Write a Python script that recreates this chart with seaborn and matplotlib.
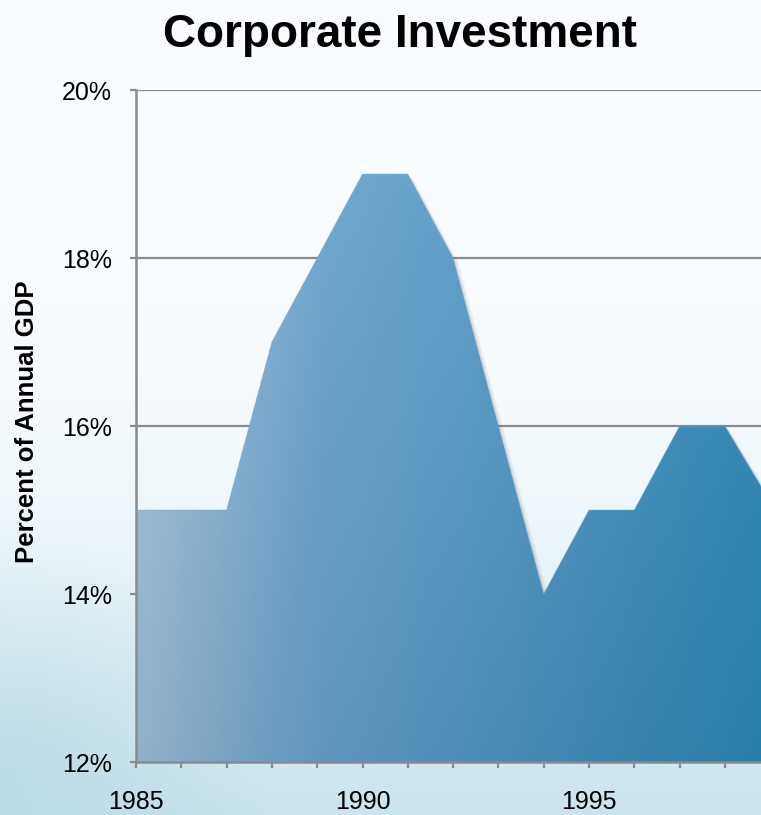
import numpy as np
import pandas as pd
import seaborn as sns
import matplotlib.pyplot as plt
from matplotlib.ticker import MultipleLocator, FuncFormatter

years = [1985, 1986, 1987, 1988, 1989, 1990, 1991, 1992, 1993, 1994, 1995, 1996, 1997, 1998, 1999]
invest = [15, 15, 15, 17, 18, 19, 19, 18, 16, 14, 15, 15, 16, 16, 15.1]
y_ticks = [12, 14, 16, 18, 20]
x_labels = [1985, 1990, 1995]

df = pd.DataFrame({"year": years, "pct": invest})

sns.set_theme(style="white")
plt.rcParams['font.family'] = ['Liberation Sans', 'DejaVu Sans']
plt.rcParams['text.color'] = 'black'

W, H = 761, 815
fig = plt.figure(figsize=(W / 100, H / 100), dpi=100)

# page background: near white, turning pale cyan towards the bottom
bg = fig.add_axes([0, 0, 1, 1], zorder=0)
yy, xx = np.mgrid[0:1:200j, 0:1:200j]
t = np.clip((0.62 - yy) / 0.62, 0, 1) ** 1.6
swoosh = np.clip(1 - np.hypot(xx / 0.35, (yy - 0.05) / 0.3), 0, 1) * 0.35
top = np.array([248, 252, 254]) / 255
bot = np.array([202, 228, 237]) / 255
deep = np.array([150, 196, 212]) / 255
img = top[None, None, :] * (1 - t[..., None]) + bot[None, None, :] * t[..., None]
img = img * (1 - swoosh[..., None]) + deep[None, None, :] * swoosh[..., None]
bg.imshow(img, extent=[0, 1, 0, 1], origin='lower', aspect='auto')
bg.axis('off')

x_max = 1985 + (W - 136) / 45.3
ax = fig.add_axes([136 / W, 1 - 762 / H, 1 - 136 / W, (762 - 90) / H], zorder=1)
ax.patch.set_alpha(0)

# gridlines behind the area
for v in y_ticks[1:]:
    ax.axhline(v, color='#8a8a8a', lw=1.6, zorder=1)

# soft shadow
for i, a in enumerate([0.10, 0.07, 0.04]):
    ax.fill_between(df["year"] + 0.04 * (i + 1), df["pct"] - 0.02 * (i + 1), 12,
                    color='#555555', alpha=a, lw=0, zorder=2)

poly = ax.fill_between(df["year"], df["pct"], 12, color='none', lw=0, zorder=3)

# gradient fill clipped to the area
gx = np.linspace(0, 1, 300)
gy = np.linspace(0, 1, 100)
GX, GY = np.meshgrid(gx, gy)
c_left = np.array([156, 186, 210]) / 255
c_mid = np.array([104, 158, 198]) / 255
c_right = np.array([50, 134, 178]) / 255
s = GX[..., None]
grad = np.where(s < 0.3, c_left + (c_mid - c_left) * (s / 0.3),
                c_mid + (c_right - c_mid) * ((s - 0.3) / 0.7))
grad = grad + (GY[..., None] - 0.4) * 0.09
grad = np.clip(grad, 0, 1)
im = ax.imshow(grad, extent=[1985, x_max, 12, 20], origin='lower', aspect='auto', zorder=3)
im.set_clip_path(poly.get_paths()[0], transform=ax.transData)

sns.lineplot(data=df, x="year", y="pct", ax=ax, color='#7aa6c8', lw=0.6, alpha=0.5, zorder=4)

ax.set_xlim(1985, x_max)
ax.set_ylim(12, 20)
ax.yaxis.set_major_locator(MultipleLocator(2))
ax.yaxis.set_major_formatter(FuncFormatter(lambda v, p: f"{v:.0f}%"))
ax.set_xticks(x_labels)
ax.set_xticklabels([str(v) for v in x_labels])
ax.xaxis.set_minor_locator(MultipleLocator(1))

for side in ['top', 'right']:
    ax.spines[side].set_visible(False)
for side in ['left', 'bottom']:
    ax.spines[side].set_color('#8a8a8a')
    ax.spines[side].set_linewidth(1.8)
    ax.spines[side].set_zorder(6)

ax.tick_params(axis='y', which='major', direction='out', length=4.5, width=1.6,
               color='#8a8a8a', pad=13, labelsize=18, labelcolor='black', left=True)
ax.tick_params(axis='x', which='both', direction='out', length=4, width=1.6,
               color='#8a8a8a', pad=16, labelsize=18, labelcolor='black', bottom=True)

ax.set_xlabel("")
ax.set_ylabel("")
fig.text(27 / W, 1 - 422 / H, "Percent of Annual GDP", rotation=90, ha='center', va='center',
         fontsize=18.5, fontweight='bold', color='black')
fig.text(400 / W, 1 - 47 / H, "Corporate Investment", ha='center', va='baseline',
         fontsize=33, fontweight='bold', color='black')

fig.savefig("out.png", dpi=100)
